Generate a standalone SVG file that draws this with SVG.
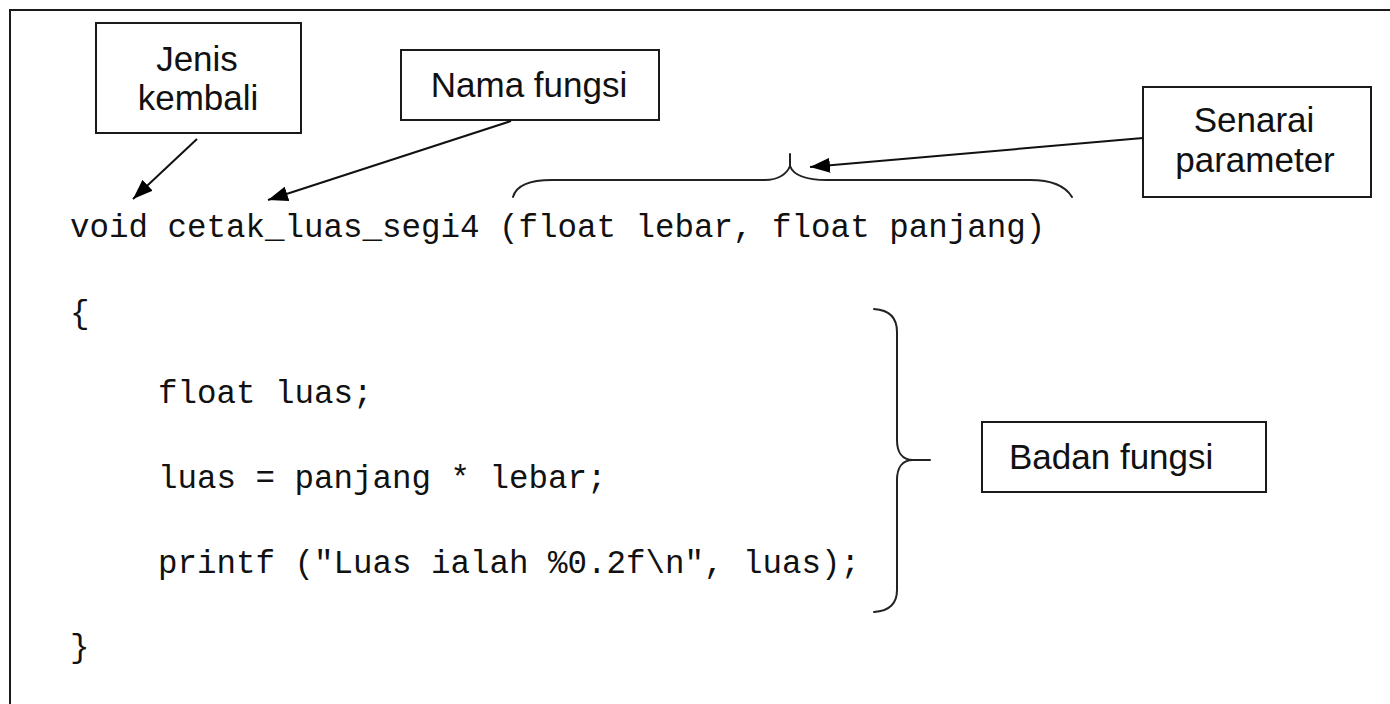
<svg xmlns="http://www.w3.org/2000/svg" width="1390" height="704" viewBox="0 0 1390 704">
  <style>
    .frame { fill: none; stroke: #1a1a1a; stroke-width: 2; }
    .box { fill: #ffffff; stroke: #1a1a1a; stroke-width: 2; }
    .label { font-family: "Liberation Sans", Arial, sans-serif; font-size: 35px; fill: #111; }
    .code { font-family: "Liberation Mono", "DejaVu Sans Mono", monospace; font-size: 32.5px; fill: #111; }
    .conn { fill: none; stroke: #111; stroke-width: 2; }
    .brace { fill: none; stroke: #222; stroke-width: 2; stroke-linecap: round; }
  </style>
  <defs>
    <marker id="arrow" markerUnits="userSpaceOnUse" markerWidth="20" markerHeight="15" refX="20" refY="7.5" orient="auto">
      <path d="M0,0 L20,7.5 L0,15 Z" fill="#000"/>
    </marker>
  </defs>

  <rect width="1390" height="704" fill="#ffffff"/>
  <!-- outer frame, running off the right and bottom edges -->
  <rect class="frame" x="10" y="10" width="1400" height="720"/>

  <!-- source code -->
  <g id="code">
    <text class="code" x="70" y="237">void cetak_luas_segi4 (float lebar, float panjang)</text>
    <text class="code" x="70" y="323">{</text>
    <text class="code" x="158" y="403">float luas;</text>
    <text class="code" x="158" y="488">luas = panjang * lebar;</text>
    <text class="code" x="158" y="573">printf ("Luas ialah %0.2f\n", luas);</text>
    <text class="code" x="70" y="657">}</text>
  </g>

  <!-- braces -->
  <g id="param-brace">
    <path class="brace" d="M513,197 C516,186 528,180 552,180 L765,180 C778,180 787,174 790,166 C793,174 803,180 827,180 L1030,180 C1052,180 1066,187 1072,197"/>
    <path class="brace" d="M790,166 L790,154"/>
  </g>
  <g id="body-brace">
    <path class="brace" d="M874,309 C890,310 897,318 897,332 L897,440 C897,452 902,460 913,460 L930,460 M913,460 C902,460 897,468 897,480 L897,590 C897,603 890,611 874,612"/>
  </g>

  <!-- label boxes -->
  <g id="jenis-kembali">
    <rect class="box" x="96" y="23" width="205" height="110"/>
    <text class="label" x="197" y="71" text-anchor="middle">Jenis</text>
    <text class="label" x="198" y="110" text-anchor="middle">kembali</text>
  </g>
  <g id="nama-fungsi">
    <rect class="box" x="401" y="50" width="258" height="70"/>
    <text class="label" x="529" y="97" text-anchor="middle">Nama fungsi</text>
  </g>
  <g id="senarai-parameter">
    <rect class="box" x="1143" y="87" width="228" height="110"/>
    <text class="label" x="1254" y="132" text-anchor="middle">Senarai</text>
    <text class="label" x="1255" y="172" text-anchor="middle">parameter</text>
  </g>
  <g id="badan-fungsi">
    <rect class="box" x="982" y="422" width="284" height="70"/>
    <text class="label" x="1009" y="469">Badan fungsi</text>
  </g>

  <!-- connectors -->
  <g id="connectors">
    <line class="conn" x1="197" y1="139" x2="133" y2="199" marker-end="url(#arrow)"/>
    <line class="conn" x1="511" y1="121" x2="268" y2="200" marker-end="url(#arrow)"/>
    <line class="conn" x1="1143" y1="138" x2="810" y2="167" marker-end="url(#arrow)"/>
  </g>
</svg>
